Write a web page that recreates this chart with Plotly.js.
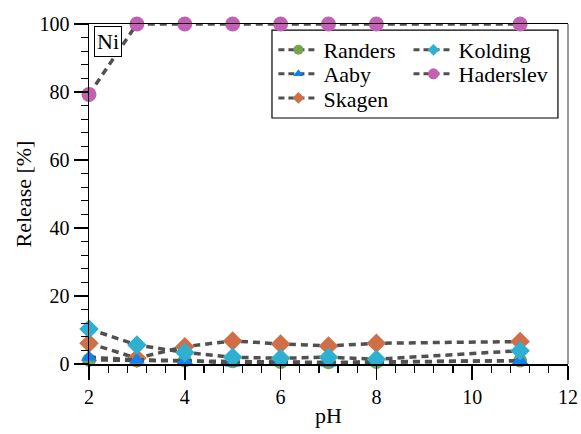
<!DOCTYPE html>
<html>
<head>
<meta charset="utf-8">
<script src="https://cdn.plot.ly/plotly-3.0.1.min.js"></script>
<style>html,body{margin:0;padding:0;background:#fff}#chart{width:581px;height:434px}</style>
</head>
<body>
<div id="chart"></div>
<script>
var pH = [2, 3, 4, 5, 6, 7, 8, 11];
var seriesNames = ['Randers', 'Aaby', 'Skagen', 'Kolding', 'Haderslev'];
var randers = [1.2, 1.0, 1.0, 0.8, 0.6, 0.5, 0.6, 1.0];
var aaby = [2.0, 1.2, 1.0, 0.3, 0.5, 0.3, 0.5, 1.0];
var skagen = [6.1, 1.7, 5.1, 6.8, 5.9, 5.3, 6.1, 6.6];
var kolding = [10.3, 5.6, 3.4, 2.0, 1.7, 2.0, 1.4, 3.9];
var haderslev = [79.3, 100, 100, 100, 100, 100, 100, 100];
var xTicks = [2, 4, 6, 8, 10, 12];
var yTicks = [0, 20, 40, 60, 80, 100];

var FONT = '"Times New Roman", "Liberation Serif", "DejaVu Serif", serif';
var lineStyle = {color: '#505050', width: 3.5, dash: '7px,5px'};
var legendLine = {color: '#505050', width: 3, dash: '6px,4px'};

var styles = [
  {symbol: 'circle', color: '#7aa24c', size: 14, lsize: 10},
  {symbol: 'triangle-up', color: '#0a84f5', size: 14, lsize: 9},
  {symbol: 'diamond', color: '#cf6e47', size: 15, lsize: 9},
  {symbol: 'diamond', color: '#2fb0d0', size: 15, lsize: 9},
  {symbol: 'circle', color: '#c261b2', size: 15, lsize: 11}
];
var values = [randers, aaby, skagen, kolding, haderslev];
var drawOrder = [0, 2, 1, 3, 4];
var legendIds = ['legend', 'legend2', 'legend3', 'legend4', 'legend5'];

var data = [];
drawOrder.forEach(function (i) {
  data.push({
    x: pH, y: values[i], name: seriesNames[i], type: 'scatter', mode: 'lines+markers',
    line: lineStyle, showlegend: false, cliponaxis: false,
    marker: {symbol: styles[i].symbol, color: styles[i].color, size: styles[i].size, line: {width: 0}}
  });
});
seriesNames.forEach(function (name, i) {
  data.push({
    x: [null], y: [null], name: name, type: 'scatter', mode: 'lines+markers',
    line: legendLine, showlegend: true, legend: legendIds[i], hoverinfo: 'skip',
    marker: {symbol: styles[i].symbol, color: styles[i].color, size: styles[i].lsize, line: {width: 0}}
  });
});

function legendAt(x, y) {
  return {
    x: x, y: y, xanchor: 'left', yanchor: 'middle',
    font: {family: FONT, size: 22, color: '#000'},
    bgcolor: 'rgba(0,0,0,0)', borderwidth: 0, itemwidth: 40
  };
}
var col1 = 0.385, col2 = 0.667;
var rows = [0.9235, 0.853, 0.782];

var layout = {
  width: 581, height: 434,
  margin: {l: 89, r: 13, t: 24, b: 70},
  paper_bgcolor: '#fff', plot_bgcolor: '#fff',
  font: {family: FONT, size: 20, color: '#000'},
  showlegend: true,
  legend: legendAt(col1, rows[0]),
  legend2: legendAt(col1, rows[1]),
  legend3: legendAt(col1, rows[2]),
  legend4: legendAt(col2, rows[0]),
  legend5: legendAt(col2, rows[1]),
  xaxis: {
    range: [2, 12], tickvals: xTicks, ticktext: xTicks.map(String),
    showgrid: false, zeroline: false, showline: true, linecolor: '#000', linewidth: 1.5,
    mirror: true,
    ticks: 'outside', ticklen: 14, tickwidth: 1.5, tickcolor: '#000',
    minor: {dtick: 0.4, tick0: 2, ticks: 'outside', ticklen: 7, tickwidth: 1.2, tickcolor: '#000', showgrid: false},
    tickfont: {family: FONT, size: 20},
    title: {text: 'pH', font: {family: FONT, size: 22}, standoff: 1}
  },
  yaxis: {
    range: [0, 100], tickvals: yTicks, ticktext: yTicks.map(String),
    showgrid: false, zeroline: false, showline: true, linecolor: '#000', linewidth: 1.5,
    ticks: 'outside', ticklen: 14, tickwidth: 1.5, tickcolor: '#000',
    minor: {dtick: 4, tick0: 0, ticks: 'outside', ticklen: 7, tickwidth: 1.2, tickcolor: '#000', showgrid: false},
    tickfont: {family: FONT, size: 20},
    title: {text: 'Release [%]', font: {family: FONT, size: 22}, standoff: 2}
  },
  shapes: [
    {type: 'line', xref: 'paper', yref: 'paper', x0: 1, x1: 1, y0: 0, y1: 1,
     line: {color: '#7a7a7a', width: 1.5}},
    {type: 'rect', xref: 'paper', yref: 'paper', x0: 0.382, x1: 0.979, y0: 0.7235, y1: 0.982,
     line: {color: '#000', width: 1.2}, fillcolor: 'rgba(0,0,0,0)', layer: 'below'}
  ],
  annotations: [
    {xref: 'paper', yref: 'paper', x: 0.01, y: 0.995, xanchor: 'left', yanchor: 'top',
     text: 'Ni', showarrow: false, font: {family: FONT, size: 22, color: '#000'},
     bordercolor: '#000', borderwidth: 1, borderpad: 2, bgcolor: '#fff'}
  ]
};

Plotly.newPlot('chart', data, layout, {displayModeBar: false, staticPlot: true});
</script>
</body>
</html>
